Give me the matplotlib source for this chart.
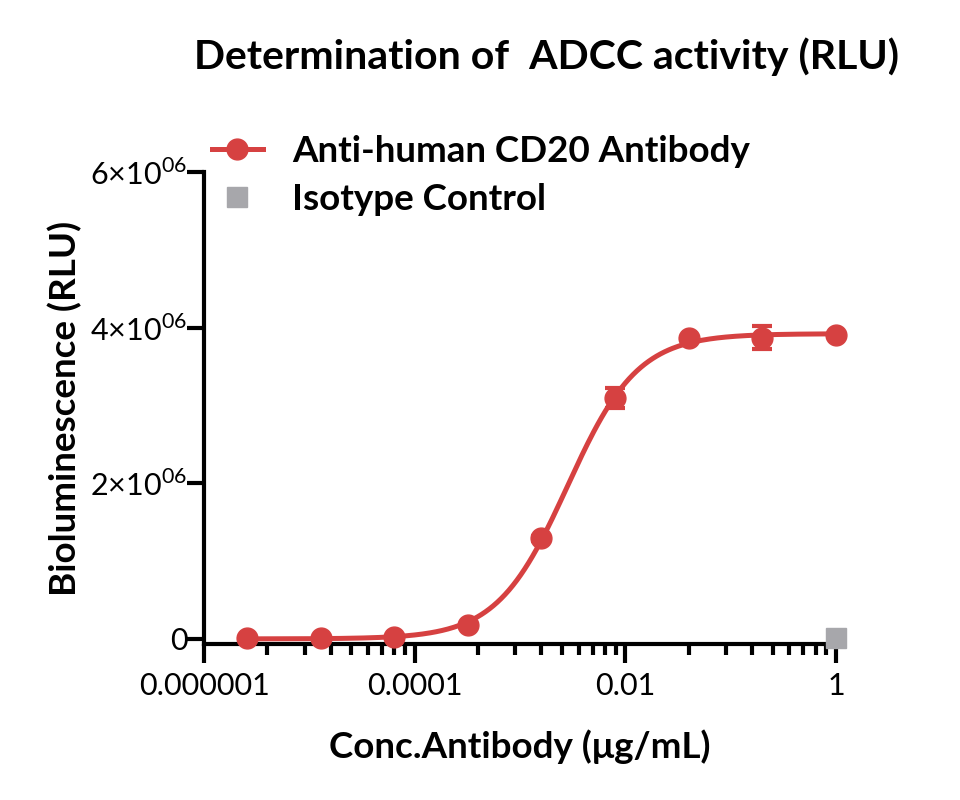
import numpy as np
import matplotlib
matplotlib.use("Agg")
import matplotlib.pyplot as plt
from matplotlib.ticker import FuncFormatter, FixedLocator, NullFormatter
from matplotlib.lines import Line2D

plt.rcParams['font.family'] = ['Lato', 'DejaVu Sans']

# 5-fold dilution series (ug/mL)
conc = [2.56e-6, 1.28e-5, 6.4e-5, 3.2e-4, 1.6e-3, 8e-3, 0.04, 0.2, 1.0]
rlu = [0.01e6, 0.01e6, 0.02e6, 0.18e6, 1.29e6, 3.09e6, 3.86e6, 3.87e6, 3.91e6]
rlu_err = [0, 0, 0, 0, 0.03e6, 0.13e6, 0, 0.15e6, 0]

iso_conc = [1.0]
iso_rlu = [0.01e6]

red = '#d64141'
grey = '#a7a7ab'


def fit_4pl(x, y):
    # brute force grid over EC50 / hill, linear solve for bottom/top
    lx = np.log10(x)
    best = None
    for logec in np.linspace(-4, -1, 301):
        for h in np.linspace(0.5, 3, 251):
            f = 1.0 / (1.0 + 10 ** ((logec - lx) * h))
            A = np.vstack([1 - f, f]).T
            coef, res, _, _ = np.linalg.lstsq(A, y, rcond=None)
            sse = np.sum((A @ coef - y) ** 2)
            if best is None or sse < best[0]:
                best = (sse, coef[0], coef[1], logec, h)
    return best[1:]


x = np.array(conc)
y = np.array(rlu)
bottom, top, logec50, hill = fit_4pl(x, y)
xs = np.logspace(np.log10(x.min()), 0, 300)
ys = bottom + (top - bottom) / (1 + 10 ** ((logec50 - np.log10(xs)) * hill))

fig = plt.figure(figsize=(9.6, 8), dpi=100)
ax = fig.add_axes([0.2125, 0.195, 0.8708 - 0.2125, 0.785 - 0.195])

ax.plot(xs, ys, color=red, lw=3.6, zorder=3, clip_on=False)
ax.errorbar(x, y, yerr=rlu_err, fmt='o', color=red, ms=15, capsize=7,
            capthick=3, elinewidth=3, zorder=4, clip_on=False)
ax.plot(iso_conc, iso_rlu, 's', color=grey, ms=14, zorder=5, clip_on=False)

ax.set_xscale('log')
ax.set_xlim(1e-6, 1)
ax.set_ylim(-0.07e6, 6e6)
majors = [1e-6, 1e-4, 1e-2, 1]
ax.set_xticks(majors)
ax.set_xticklabels(['0.000001', '0.0001', '0.01', '1'])
# prism style: minor ticks split each 100-fold span like one decade
minors = [m * k ** 2 for m in majors[:-1] for k in range(2, 10)]
ax.xaxis.set_minor_locator(FixedLocator(minors))
ax.xaxis.set_minor_formatter(NullFormatter())
ax.set_yticks([0, 2e6, 4e6, 6e6])


def yfmt(v, pos):
    if v == 0:
        return '0'
    return '%d×10$^{\\mathregular{06}}$' % round(v / 1e6)


ax.yaxis.set_major_formatter(FuncFormatter(yfmt))

for s in ['top', 'right']:
    ax.spines[s].set_visible(False)
for s in ['left', 'bottom']:
    ax.spines[s].set_linewidth(3)
ax.tick_params(axis='both', which='major', width=3, length=12, labelsize=22, pad=0)
ax.tick_params(axis='x', which='major', length=14, pad=6)
ax.tick_params(axis='x', which='minor', width=3, length=8)

ax.set_xlabel('Conc.Antibody (μg/mL)', fontsize=26.5, fontweight='bold', labelpad=21)
ax.set_ylabel('Bioluminescence (RLU)', fontsize=26.5, fontweight='bold', labelpad=6)

fig.text(0.569, 0.929, 'Determination of  ADCC activity (RLU)', ha='center', va='center',
         fontsize=29.5, fontweight='bold')

handles = [Line2D([], [], color=red, lw=3.6, marker='o', ms=15),
           Line2D([], [], color=grey, lw=0, marker='s', ms=14)]
ax.legend(handles, ['Anti-human CD20 Antibody', 'Isotype Control'],
          loc='upper left', bbox_to_anchor=(0.205, 0.850), bbox_transform=fig.transFigure,
          frameon=False, prop={'size': 26.5, 'weight': 'bold'}, handlelength=1.4,
          handletextpad=0.8, labelspacing=0.41, borderaxespad=0)

fig.savefig('out.png', dpi=100)
